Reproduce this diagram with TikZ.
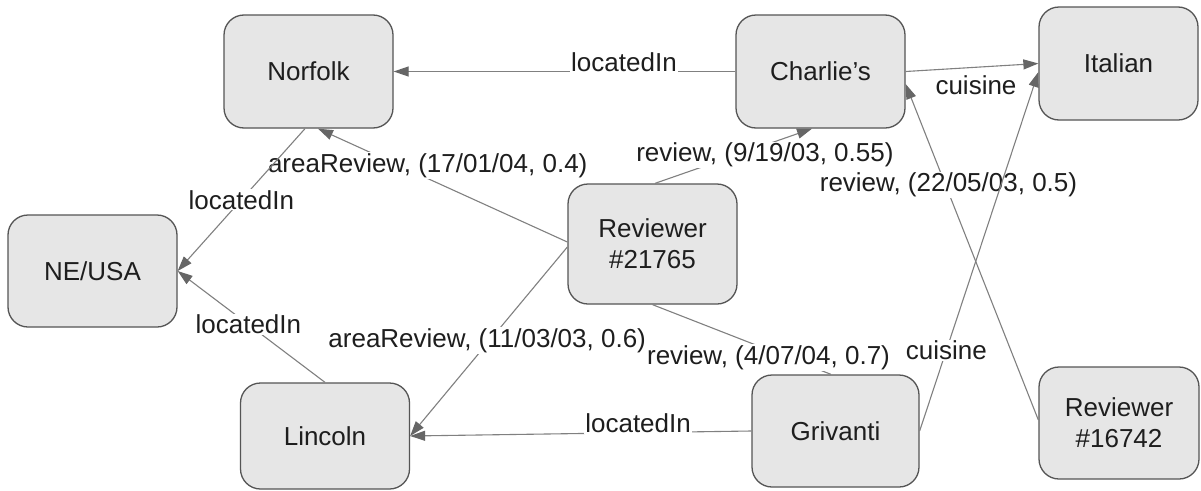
\documentclass[tikz,border=0pt]{standalone}
\usepackage{fontspec}
\setmainfont{Liberation Sans}
\usetikzlibrary{arrows.meta}
\definecolor{nodefill}{HTML}{E6E6E6}
\definecolor{nodeborder}{HTML}{555555}
\definecolor{edgecol}{HTML}{808080}
\definecolor{tipcol}{HTML}{666666}
\definecolor{txt}{HTML}{1E1E1E}
\begin{document}
\begin{tikzpicture}[x=1pt,y=-1pt,
  box/.style={draw=nodeborder, line width=1.3pt, fill=nodefill, rounded corners=20pt,
    minimum width=169pt, minimum height=113pt, inner sep=0pt, align=center,
    font=\fontsize{26}{31}\selectfont, text=txt},
  edge/.style={draw=edgecol, line width=1.1pt, -{Triangle[length=15pt,width=10pt,color=tipcol]}},
  plain/.style={draw=edgecol, line width=1.1pt},
  lbl/.style={fill=white, inner sep=1pt, font=\fontsize{26}{31}\selectfont, text=txt}]
\useasboundingbox (0,0) rectangle (1201,490);
\fill[white] (0,0) rectangle (1201,490);

\node[box] (Norfolk) at (308.5,71.5) {Norfolk};
\node[box, minimum height=112pt] (NEUSA) at (92.5,271) {NE/USA};
\node[box, minimum height=120pt] (R21765) at (652.5,244) {Reviewer\\\#21765};
\node[box] (Charlies) at (820.5,71.5) {Charlie’s};
\node[box, minimum width=159pt] (Italian) at (1118.5,63.5) {Italian};
\node[box, minimum width=160pt, minimum height=112pt] (R16742) at (1119,423) {Reviewer\\\#16742};
\node[box, minimum width=167pt, minimum height=112pt] (Grivanti) at (835.5,431) {Grivanti};
\node[box, minimum height=106pt] (Lincoln) at (325,436) {Lincoln};

\draw[edge] (Charlies.west) -- node[lbl, pos=.326, anchor=base] (l1) {locatedIn} (Norfolk.east);
\draw[edge] (Charlies.east) -- node[lbl, pos=.53, anchor=north, yshift=-7pt] (l2) {cuisine} (Italian.west);
\draw[edge] ([xshift=2.5pt]R21765.north) -- node[lbl, pos=.7, yshift=-10pt] (l3) {review, (9/19/03, 0.55)} ([xshift=-8.5pt]Charlies.south);
\draw[edge] ([yshift=3pt]R16742.west) -- node[lbl, pos=.7, xshift=3pt] (l4) {review, (22/05/03, 0.5)} ([yshift=-12.5pt]Charlies.east);
\draw[edge] (Grivanti.east) -- node[lbl, pos=.225] (l5) {cuisine} ([yshift=-8.5pt]Italian.west);
\draw[edge] ([yshift=2pt]R21765.west) -- node[lbl, pos=.56, yshift=13pt] (l6) {areaReview, (17/01/04, 0.4)} ([xshift=9.5pt]Norfolk.south);
\draw[edge] ([yshift=-3pt]R21765.west) -- node[lbl, pos=.51, yshift=3pt] (l7) {areaReview, (11/03/03, 0.6)} (Lincoln.east);
\draw[plain] (R21765.south) -- node[lbl, pos=.65, yshift=-7.5pt] (l8) {review, (4/07/04, 0.7)} ([xshift=-4.5pt]Grivanti.north);
\draw[edge] (Grivanti.west) -- node[lbl, pos=.332, anchor=base] (l9) {locatedIn} (Lincoln.east);
\draw[edge] ([xshift=-3.5pt]Norfolk.south) -- node[lbl, pos=.5] (l10) {locatedIn} (NEUSA.east);
\draw[edge] (Lincoln.north) -- node[lbl, pos=.52] (l11) {locatedIn} (NEUSA.east);
\end{tikzpicture}
\end{document}
